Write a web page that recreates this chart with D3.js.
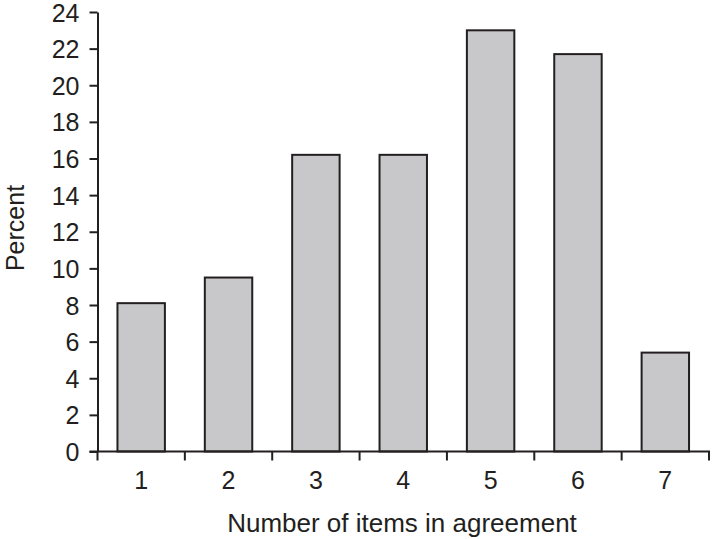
<!DOCTYPE html>
<html><head><meta charset="utf-8">
<script src="https://cdn.jsdelivr.net/npm/d3@7"></script>
<style>body{margin:0;background:#fff}svg{display:block}text{font-family:"Liberation Sans",Arial,sans-serif;fill:#231f20}</style>
</head><body>
<script>
const categories = ["1","2","3","4","5","6","7"];
const values = [8.1, 9.5, 16.2, 16.2, 23.0, 21.7, 5.4];
const yTicks = [0,2,4,6,8,10,12,14,16,18,20,22,24];

const W = 712, H = 539;
const m = {left: 97.5, right: 3, top: 12, bottom: 87.5};
const svg = d3.select("body").append("svg").attr("width", W).attr("height", H);
const x = d3.scaleBand().domain(categories).range([m.left, W - m.right]).paddingInner(0.457).paddingOuter(0.2285);
const y = d3.scaleLinear().domain([0, 24]).range([H - m.bottom, m.top]);
const ink = "#231f20";

svg.selectAll("rect.bar").data(values).join("rect")
  .attr("class","bar")
  .attr("x", (d,i) => x(categories[i]))
  .attr("width", x.bandwidth())
  .attr("y", d => y(d))
  .attr("height", d => y(0) - y(d))
  .attr("fill", "#c8c8ca").attr("stroke", ink).attr("stroke-width", 2);

// y axis
const ya = svg.append("g").attr("transform", `translate(${m.left},0)`)
  .call(d3.axisLeft(y).tickValues(yTicks).tickSize(8).tickSizeOuter(0).tickPadding(10));
ya.attr("font-size", null).attr("font-family", null);
ya.select(".domain").attr("stroke", ink).attr("stroke-width", 2);
ya.selectAll(".tick line").attr("stroke", ink).attr("stroke-width", 2);
ya.selectAll(".tick text").attr("font-size", 25).attr("dy", "0.36em").style("fill", ink);

// x axis
const step = x.step();
const bounds = d3.range(categories.length + 1).map(i => m.left + i * step);
const xg = svg.append("g");
xg.append("line").attr("x1", m.left - 8).attr("x2", W - m.right + 1)
  .attr("y1", y(0)).attr("y2", y(0)).attr("stroke", ink).attr("stroke-width", 2);
xg.selectAll("line.tk").data(bounds).join("line").attr("class","tk")
  .attr("x1", d => d).attr("x2", d => d).attr("y1", y(0)).attr("y2", y(0) + 9)
  .attr("stroke", ink).attr("stroke-width", 2);
xg.selectAll("text").data(categories).join("text")
  .attr("x", d => x(d) + x.bandwidth()/2).attr("y", 489)
  .attr("text-anchor","middle").attr("font-size", 25).text(d => d);

svg.append("text").attr("x", 402).attr("y", 532).attr("text-anchor","middle")
  .attr("font-size", 26).text("Number of items in agreement");
svg.append("text").attr("transform", `translate(24,228) rotate(-90)`).attr("text-anchor","middle")
  .attr("font-size", 25).text("Percent");
</script>
</body></html>
